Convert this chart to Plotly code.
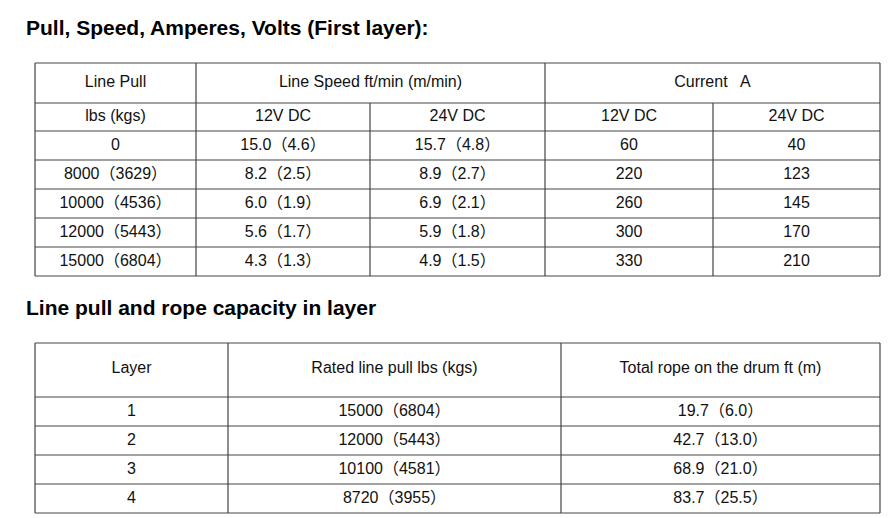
import plotly.graph_objects as go

title1 = "Pull, Speed, Amperes, Volts (First layer):"
title2 = "Line pull and rope capacity in layer"
t1_head1 = ["Line Pull", "Line Speed ft/min (m/min)", "Current\u00a0\u00a0 A"]
t1_head2 = ["lbs (kgs)", "12V DC", "24V DC", "12V DC", "24V DC"]
pull = ["0", "8000（3629）", "10000（4536）", "12000（5443）", "15000（6804）"]
speed12 = ["15.0（4.6）", "8.2（2.5）", "6.0（1.9）", "5.6（1.7）", "4.3（1.3）"]
speed24 = ["15.7（4.8）", "8.9（2.7）", "6.9（2.1）", "5.9（1.8）", "4.9（1.5）"]
amp12 = ["60", "220", "260", "300", "330"]
amp24 = ["40", "123", "145", "170", "210"]
t2_head = ["Layer", "Rated line pull lbs (kgs)", "Total rope on the drum ft (m)"]
layer = ["1", "2", "3", "4"]
rated = ["15000（6804）", "12000（5443）", "10100（4581）", "8720（3955）"]
rope = ["19.7（6.0）", "42.7（13.0）", "68.9（21.0）", "83.7（25.5）"]

W, H = 889, 518
FONT = "Liberation Sans, Arial, Noto Sans CJK SC, sans-serif"
fig = go.Figure()
shapes = []
def line(x0, y0, x1, y1):
    shapes.append(dict(type="line", x0=x0, y0=y0, x1=x1, y1=y1, xref="x", yref="y",
                       line=dict(color="#444", width=1.2)))

xs, ys, ts = [], [], []
def txt(x, y, t):
    xs.append(x); ys.append(y); ts.append(t)

# table 1 grid
L, R = 27, 872
c1, c2, c3, c4 = 188, 362, 537, 705
rows1 = [55, 95, 123, 152, 181, 210, 239, 268]
for y in rows1:
    line(L, y, R, y)
for x in [L, c1, c3, R]:
    line(x, 55, x, 268)
for x in [c2, c4]:
    line(x, 95, x, 268)
txt((L + c1) / 2, 75, t1_head1[0]); txt((c1 + c3) / 2, 75, t1_head1[1]); txt((c3 + R) / 2, 75, t1_head1[2])
cx = [(L + c1) / 2, (c1 + c2) / 2, (c2 + c3) / 2, (c3 + c4) / 2, (c4 + R) / 2]
for i, t in enumerate(t1_head2):
    txt(cx[i], 109, t)
for r in range(len(pull)):
    y = (rows1[r + 2] + rows1[r + 3]) / 2
    for i, col in enumerate([pull, speed12, speed24, amp12, amp24]):
        txt(cx[i], y, col[r])

# table 2 grid
d1, d2 = 220, 553
rows2 = [335, 389, 418, 447, 476, 505]
for y in rows2:
    line(L, y, R, y)
for x in [L, d1, d2, R]:
    line(x, 335, x, 505)
cx2 = [(L + d1) / 2, (d1 + d2) / 2, (d2 + R) / 2]
for i, t in enumerate(t2_head):
    txt(cx2[i], 361, t)
for r in range(len(layer)):
    y = (rows2[r + 1] + rows2[r + 2]) / 2
    for i, col in enumerate([layer, rated, rope]):
        txt(cx2[i], y, col[r])

fig.add_trace(go.Scatter(x=xs, y=ys, text=ts, mode="text", textposition="middle center",
                         textfont=dict(family=FONT, size=16, color="#111"), hoverinfo="skip"))
fig.add_trace(go.Scatter(x=[18, 18], y=[22, 302], text=[title1, title2], mode="text",
                         textposition="middle right",
                         textfont=dict(family=FONT, size=21, color="#000", weight="bold"),
                         hoverinfo="skip"))
fig.update_layout(width=W, height=H, margin=dict(l=0, r=0, t=0, b=0), showlegend=False,
                  plot_bgcolor="white", paper_bgcolor="white", shapes=shapes,
                  xaxis=dict(range=[0, W], visible=False, fixedrange=True),
                  yaxis=dict(range=[H, 0], visible=False, fixedrange=True))
fig.write_html("out.html", config={"displayModeBar": False})
